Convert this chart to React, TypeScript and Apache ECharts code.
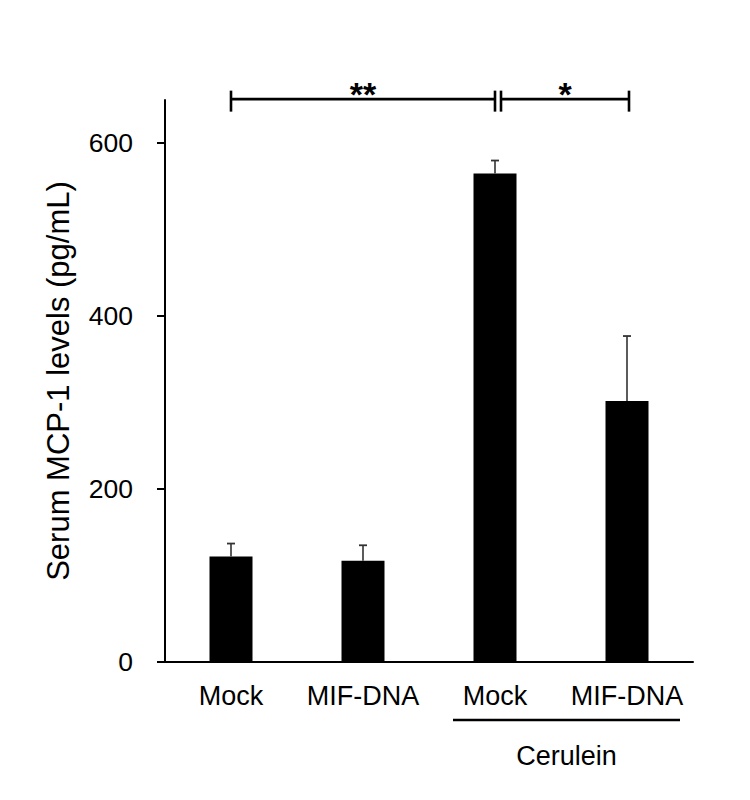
import React, { useEffect, useRef } from "react";
import * as echarts from "echarts";

const categories = ["Mock", "MIF-DNA", "Mock", "MIF-DNA"];
const meanValues = [122, 117, 565, 302];
const errorValues = [15, 18, 15, 75];
const yTickValues = [0, 200, 400, 600];
const yMax = 650;
const yAxisTitle = "Serum MCP-1 levels (pg/mL)";
const comparisonFrom = [0, 2];
const comparisonTo = [2, 3];
const comparisonLabels = ["**", "*"];
const bracketLevel = 651;
const groupLabel = "Cerulein";
const groupFrom = 2;
const groupTo = 3;

const FONT = "'Liberation Sans', Arial, Helvetica, sans-serif";

export default function App() {
  const ref = useRef<HTMLDivElement>(null);

  useEffect(() => {
    if (!ref.current) return;
    const chart = echarts.init(ref.current, null, { renderer: "svg" });

    const errorData = meanValues.map((v, i) => [i, v, errorValues[i]]);
    const bracketData = comparisonFrom.map((f, i) => [f, comparisonTo[i], bracketLevel]);

    const option: any = {
      animation: false,
      backgroundColor: "#ffffff",
      grid: { left: 165, right: 57, top: 100, bottom: 138, containLabel: false },
      xAxis: {
        type: "category",
        data: categories,
        boundaryGap: true,
        axisLine: { show: true, lineStyle: { color: "#000", width: 2 } },
        axisTick: { show: false },
        axisLabel: {
          color: "#000",
          fontFamily: FONT,
          fontSize: 27,
          lineHeight: 27,
          margin: 20,
          interval: 0,
        },
        splitLine: { show: false },
      },
      yAxis: {
        type: "value",
        min: 0,
        max: yMax,
        interval: 200,
        name: yAxisTitle,
        nameLocation: "middle",
        nameRotate: 90,
        nameGap: 91,
        nameTextStyle: { color: "#000", fontFamily: FONT, fontSize: 31 },
        axisLine: { show: true, lineStyle: { color: "#000", width: 2 } },
        axisTick: {
          show: true,
          inside: false,
          length: 8,
          lineStyle: { color: "#000", width: 2 },
          customValues: yTickValues,
        },
        axisLabel: {
          color: "#000",
          fontFamily: FONT,
          fontSize: 26.5,
          margin: 32,
          customValues: yTickValues,
        },
        splitLine: { show: false },
      },
      series: [
        {
          type: "bar",
          data: meanValues,
          barWidth: 43,
          itemStyle: { color: "#000" },
          silent: true,
        },
        {
          type: "custom",
          data: errorData,
          encode: { x: 0, y: 1 },
          clip: false,
          silent: true,
          z: 3,
          renderItem: (params: any, api: any) => {
            const i = api.value(0);
            const v = api.value(1);
            const e = api.value(2);
            const base = api.coord([i, v]);
            const top = api.coord([i, v + e]);
            const capHalf = 4;
            return {
              type: "group",
              children: [
                {
                  type: "line",
                  shape: { x1: base[0], y1: base[1], x2: top[0], y2: top[1] },
                  style: { stroke: "#333", lineWidth: 1.6 },
                },
                {
                  type: "line",
                  shape: { x1: top[0] - capHalf, y1: top[1], x2: top[0] + capHalf, y2: top[1] },
                  style: { stroke: "#333", lineWidth: 1.8 },
                },
              ],
            };
          },
        },
        {
          type: "custom",
          data: bracketData,
          encode: { x: 0, y: 2 },
          clip: false,
          silent: true,
          z: 4,
          renderItem: (params: any, api: any) => {
            const idx = params.dataIndex;
            const from = api.value(0);
            const to = api.value(1);
            const lvl = api.value(2);
            const p0 = api.coord([from, lvl]);
            const p1 = api.coord([to, lvl]);
            const prevEnd = idx > 0 ? comparisonTo[idx - 1] : -1;
            const x0 = p0[0] + (from === prevEnd ? 6 : 0);
            const x1 = p1[0] + (idx === comparisonFrom.length - 1 ? 2 : 0);
            const y = p0[1];
            const up = 8.5;
            const down = 12.5;
            return {
              type: "group",
              children: [
                {
                  type: "line",
                  shape: { x1: x0, y1: y, x2: x1, y2: y },
                  style: { stroke: "#000", lineWidth: 2.6 },
                },
                {
                  type: "line",
                  shape: { x1: x0, y1: y - up, x2: x0, y2: y + down },
                  style: { stroke: "#000", lineWidth: 2.6 },
                },
                {
                  type: "line",
                  shape: { x1: x1, y1: y - up, x2: x1, y2: y + down },
                  style: { stroke: "#000", lineWidth: 2.6 },
                },
                {
                  type: "text",
                  x: (x0 + x1) / 2,
                  y: y - 5,
                  style: {
                    text: comparisonLabels[idx],
                    fill: "#000",
                    font: `bold 34px ${FONT}`,
                    align: "center",
                    verticalAlign: "middle",
                  },
                },
              ],
            };
          },
        },
        {
          type: "custom",
          data: [[groupFrom, groupTo, 0]],
          encode: { x: 0, y: 2 },
          clip: false,
          silent: true,
          z: 4,
          renderItem: (params: any, api: any) => {
            const p0 = api.coord([api.value(0), api.value(2)]);
            const p1 = api.coord([api.value(1), api.value(2)]);
            const x0 = p0[0] - 42;
            const x1 = p1[0] + 53;
            const y = p0[1] + 58;
            return {
              type: "group",
              children: [
                {
                  type: "line",
                  shape: { x1: x0, y1: y, x2: x1, y2: y },
                  style: { stroke: "#000", lineWidth: 2.6 },
                },
                {
                  type: "text",
                  x: (x0 + x1) / 2,
                  y: y + 36,
                  style: {
                    text: groupLabel,
                    fill: "#000",
                    font: `27px ${FONT}`,
                    align: "center",
                    verticalAlign: "middle",
                  },
                },
              ],
            };
          },
        },
      ],
    };

    chart.setOption(option);
    return () => {
      chart.dispose();
    };
  }, []);

  return (
    <div
      ref={ref}
      style={{ position: "fixed", left: 0, top: 0, width: 750, height: 800, background: "#fff" }}
    />
  );
}
